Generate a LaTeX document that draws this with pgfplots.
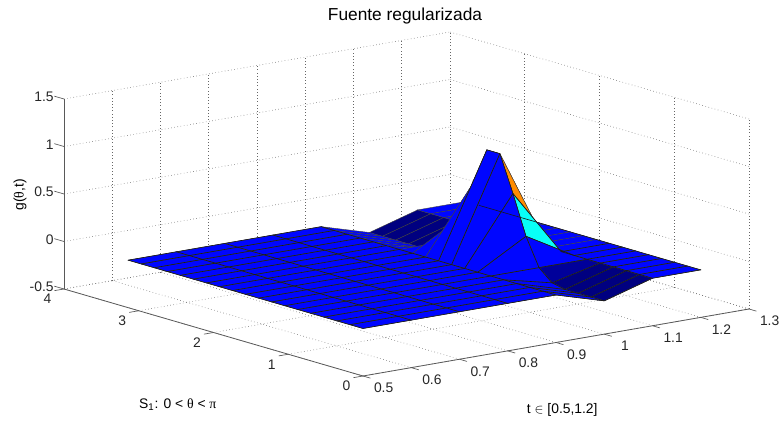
\documentclass[border=0pt]{standalone}
\usepackage{fontspec}
\setmainfont{Liberation Sans}
\newfontfamily\symf{Liberation Serif}
\usepackage{pgfplots}
\pgfplotsset{compat=1.18}
\definecolor{axc}{gray}{0.35}
\pgfplotsset{colormap={matjet}{rgb255(0cm)=(0,0,128) rgb255(1cm)=(0,0,255) rgb255(3cm)=(0,255,255) rgb255(5cm)=(255,255,0) rgb255(7cm)=(255,0,0) rgb255(8cm)=(128,0,0)}}
\pgfplotsset{ml/.style={black!90, line width=0.45pt, no markers}}
\begin{document}
\begin{tikzpicture}
\useasboundingbox (0,0) rectangle (585.75pt,317.25pt);
\begin{axis}[
  at={(48pt,35.25pt)}, anchor=south west,
  x={(361.875pt,62.8125pt)}, y={(-56.0625pt,16.3125pt)}, z={(0pt,71.25pt)},
  xmin=0.5, xmax=1.3, ymin=0, ymax=4, zmin=-0.5, zmax=1.5,
  xtick={0.5,0.6,0.7,0.8,0.9,1,1.1,1.2,1.3},
  ytick={0,1,2,3,4},
  ztick={-0.5,0,0.5,1,1.5},
  grid=major,
  grid style={dotted, black!60, line width=0.45pt},
  axis line style={draw=none},
  major tick length=0pt,
  xtick pos=left, ytick pos=left, ztick pos=left,
  /pgf/number format/assume math mode=true,
  tick label style={font=\fontsize{10.4}{12}\selectfont, text=black!85},
  x tick label style={anchor=center, xshift=15.5pt, yshift=-9pt},
  y tick label style={anchor=center, xshift=-12.4pt, yshift=-7.5pt},
  z tick label style={anchor=east, xshift=-4.25pt, yshift=1.5pt},
  clip=false,
  title={Fuente regularizada},
  title style={at={(0.4978,1.0232)}, anchor=center, font=\fontsize{13}{15}\selectfont},
  xlabel={t $\in$ [0.5,1.2]},
  ylabel={S\textsubscript{1}: 0 < {\symf θ} < {\symf π}},
  zlabel={g({\symf θ},t)},
  every axis x label/.style={at={(0.7274,-0.0988)}, anchor=center, font=\fontsize{10.4}{12}\selectfont},
  every axis y label/.style={at={(0.1662,-0.0843)}, anchor=center, font=\fontsize{10.4}{12}\selectfont},
  every axis z label/.style={at={(-0.0641,0.5262)}, rotate=90, anchor=center, font=\fontsize{10.4}{12}\selectfont},
  colormap name=matjet,
  point meta min=-0.15, point meta max=1,
]
\addplot3[surf, shader=flat corner, draw=black!75, line width=0.32pt, z buffer=default, mesh/cols=3, point meta=explicit]
 table[x=x, y=y, z=z, meta=c] {
x y z c
1.2 3.1416 0 0
1.1 3.1416 0 -0.15
1.0 3.1416 -0.15 0
1.2 2.9671 0 0
1.1 2.9671 0 -0.15
1.0 2.9671 -0.15 0
1.2 2.7925 0 0
1.1 2.7925 0 -0.15
1.0 2.7925 -0.15 0
1.2 2.6180 0 0
1.1 2.6180 0 -0.15
1.0 2.6180 -0.15 0
1.2 2.4435 0 0
1.1 2.4435 0 -0.12
1.0 2.4435 -0.15 0
1.2 2.2689 0 0
1.1 2.2689 0 0
1.0 2.2689 -0.12 0
1.2 2.0944 0 0
1.1 2.0944 0 0.29
1.0 2.0944 0 0
1.2 1.9199 0 0
1.1 1.9199 0 0.70
1.0 1.9199 0.29 0
1.2 1.7453 0 0
1.1 1.7453 0 1.08
1.0 1.7453 0.70 0
1.2 1.5708 0 0
1.1 1.5708 0 1.08
1.0 1.5708 1.08 0
1.2 1.3963 0 0
1.1 1.3963 0 0.70
1.0 1.3963 1.08 0
1.2 1.2217 0 0
1.1 1.2217 0 0.29
1.0 1.2217 0.70 0
1.2 1.0472 0 0
1.1 1.0472 0 0
1.0 1.0472 0.29 0
1.2 0.8727 0 0
1.1 0.8727 0 -0.12
1.0 0.8727 0 0
1.2 0.6981 0 0
1.1 0.6981 0 -0.15
1.0 0.6981 -0.12 0
1.2 0.5236 0 0
1.1 0.5236 0 -0.15
1.0 0.5236 -0.15 0
1.2 0.3491 0 0
1.1 0.3491 0 -0.15
1.0 0.3491 -0.15 0
1.2 0.1745 0 0
1.1 0.1745 0 -0.15
1.0 0.1745 -0.15 0
1.2 0 0 0
1.1 0 0 0
1.0 0 -0.15 0
};
\addplot3[surf, shader=flat corner, draw=black!75, line width=0.32pt, z buffer=default, mesh/cols=6, point meta=explicit]
 table[x=x, y=y, z=z, meta=c] {
x y z c
1.0 3.1416 -0.15 0
0.9 3.1416 0 0
0.8 3.1416 0 0
0.7 3.1416 0 0
0.6 3.1416 0 0
0.5 3.1416 0 0
1.0 2.9671 -0.15 0
0.9 2.9671 0 0
0.8 2.9671 0 0
0.7 2.9671 0 0
0.6 2.9671 0 0
0.5 2.9671 0 0
1.0 2.7925 -0.15 0
0.9 2.7925 0 0
0.8 2.7925 0 0
0.7 2.7925 0 0
0.6 2.7925 0 0
0.5 2.7925 0 0
1.0 2.6180 -0.15 0
0.9 2.6180 0 0
0.8 2.6180 0 0
0.7 2.6180 0 0
0.6 2.6180 0 0
0.5 2.6180 0 0
1.0 2.4435 -0.15 0
0.9 2.4435 0 0
0.8 2.4435 0 0
0.7 2.4435 0 0
0.6 2.4435 0 0
0.5 2.4435 0 0
1.0 2.2689 -0.12 0
0.9 2.2689 0 0
0.8 2.2689 0 0
0.7 2.2689 0 0
0.6 2.2689 0 0
0.5 2.2689 0 0
1.0 2.0944 0 0
0.9 2.0944 0 0
0.8 2.0944 0 0
0.7 2.0944 0 0
0.6 2.0944 0 0
0.5 2.0944 0 0
1.0 1.9199 0.29 0
0.9 1.9199 0 0
0.8 1.9199 0 0
0.7 1.9199 0 0
0.6 1.9199 0 0
0.5 1.9199 0 0
1.0 1.7453 0.70 0
0.9 1.7453 0 0
0.8 1.7453 0 0
0.7 1.7453 0 0
0.6 1.7453 0 0
0.5 1.7453 0 0
1.0 1.5708 1.08 0
0.9 1.5708 0 0
0.8 1.5708 0 0
0.7 1.5708 0 0
0.6 1.5708 0 0
0.5 1.5708 0 0
1.0 1.3963 1.08 0
0.9 1.3963 0 0
0.8 1.3963 0 0
0.7 1.3963 0 0
0.6 1.3963 0 0
0.5 1.3963 0 0
1.0 1.2217 0.70 0
0.9 1.2217 0 0
0.8 1.2217 0 0
0.7 1.2217 0 0
0.6 1.2217 0 0
0.5 1.2217 0 0
1.0 1.0472 0.29 0
0.9 1.0472 0 0
0.8 1.0472 0 0
0.7 1.0472 0 0
0.6 1.0472 0 0
0.5 1.0472 0 0
1.0 0.8727 0 0
0.9 0.8727 0 0
0.8 0.8727 0 0
0.7 0.8727 0 0
0.6 0.8727 0 0
0.5 0.8727 0 0
1.0 0.6981 -0.12 0
0.9 0.6981 0 0
0.8 0.6981 0 0
0.7 0.6981 0 0
0.6 0.6981 0 0
0.5 0.6981 0 0
1.0 0.5236 -0.15 0
0.9 0.5236 0 0
0.8 0.5236 0 0
0.7 0.5236 0 0
0.6 0.5236 0 0
0.5 0.5236 0 0
1.0 0.3491 -0.15 0
0.9 0.3491 0 0
0.8 0.3491 0 0
0.7 0.3491 0 0
0.6 0.3491 0 0
0.5 0.3491 0 0
1.0 0.1745 -0.15 0
0.9 0.1745 0 0
0.8 0.1745 0 0
0.7 0.1745 0 0
0.6 0.1745 0 0
0.5 0.1745 0 0
1.0 0 -0.15 0
0.9 0 0 0
0.8 0 0 0
0.7 0 0 0
0.6 0 0 0
0.5 0 0 0
};
% continuous mesh lines of the parts that are seen whole
\pgfplotsinvokeforeach{3.1416,2.9671,2.7925,2.6180,2.4435,2.2689,2.0944,1.9199,1.7453,1.5708,1.3963,1.2217,1.0472,0.8727,0.6981,0.5236,0.3491,0.1745,0}{
  \draw[black!90, line width=0.45pt] (axis cs:0.5,#1,0) -- (axis cs:0.9,#1,0);
}
\pgfplotsinvokeforeach{0.5,0.6,0.7,0.8,0.9}{
  \draw[black!90, line width=0.45pt] (axis cs:#1,0,0) -- (axis cs:#1,3.1416,0);
}
\addplot3[ml] coordinates {(0.9,0,0)(1,0,-0.15)(1.1,0,0)(1.2,0,0)};
\addplot3[ml] coordinates {(0.9,0.1745,0)(1,0.1745,-0.15)(1.1,0.1745,0)(1.2,0.1745,0)};
\addplot3[ml] coordinates {(0.9,0.3491,0)(1,0.3491,-0.15)(1.1,0.3491,0)(1.2,0.3491,0)};
\addplot3[ml] coordinates {(0.9,0.5236,0)(1,0.5236,-0.15)(1.1,0.5236,0)(1.2,0.5236,0)};
\addplot3[ml] coordinates {(0.9,0.6981,0)(1,0.6981,-0.12)(1.1,0.6981,0)(1.2,0.6981,0)};
\addplot3[ml] coordinates {(0.9,0.8727,0)(1,0.8727,0)(1.1,0.8727,0)(1.2,0.8727,0)};
\addplot3[ml] coordinates {(0.9,1.0472,0)(1,1.0472,0.29)(1.1,1.0472,0)(1.2,1.0472,0)};
\addplot3[ml] coordinates {(0.9,1.2217,0)(1,1.2217,0.70)(1.1,1.2217,0)(1.2,1.2217,0)};
\addplot3[ml] coordinates {(0.9,1.3963,0)(1,1.3963,1.08)};
\addplot3[ml] coordinates {(0.9,1.5708,0)(1,1.5708,1.08)};
\addplot3[ml] coordinates {(1,0,-0.15)(1,0.1745,-0.15)(1,0.3491,-0.15)(1,0.5236,-0.15)(1,0.6981,-0.12)(1,0.8727,0)(1,1.0472,0.29)(1,1.2217,0.70)(1,1.3963,1.08)(1,1.5708,1.08)};
\addplot3[ml] coordinates {(1.1,0,0)(1.1,1.2217,0)};
\addplot3[ml] coordinates {(1.2,0,0)(1.2,2.9671,0)};
\draw[axc, line width=0.6pt] (axis cs:0.5,0,-0.5) -- (axis cs:1.3,0,-0.5);
\draw[axc, line width=0.6pt] (axis cs:0.5,0,-0.5) -- (axis cs:0.5,4,-0.5);
\draw[axc, line width=0.6pt] (axis cs:0.5,4,-0.5) -- (axis cs:0.5,4,1.5);
\pgfplotsinvokeforeach{0.5,0.6,0.7,0.8,0.9,1,1.1,1.2,1.3}{
  \draw[axc, line width=0.5pt] (axis cs:#1,0,-0.5) -- (axis cs:#1,-0.1,-0.5);
}
\pgfplotsinvokeforeach{0,1,2,3,4}{
  \draw[axc, line width=0.5pt] (axis cs:0.5,#1,-0.5) -- (axis cs:0.48,#1,-0.5);
}
\pgfplotsinvokeforeach{-0.5,0,0.5,1,1.5}{
  \draw[axc, line width=0.5pt] (axis cs:0.5,4,#1) -- (axis cs:0.5,4.13,#1);
}
\end{axis}
\end{tikzpicture}
\end{document}
